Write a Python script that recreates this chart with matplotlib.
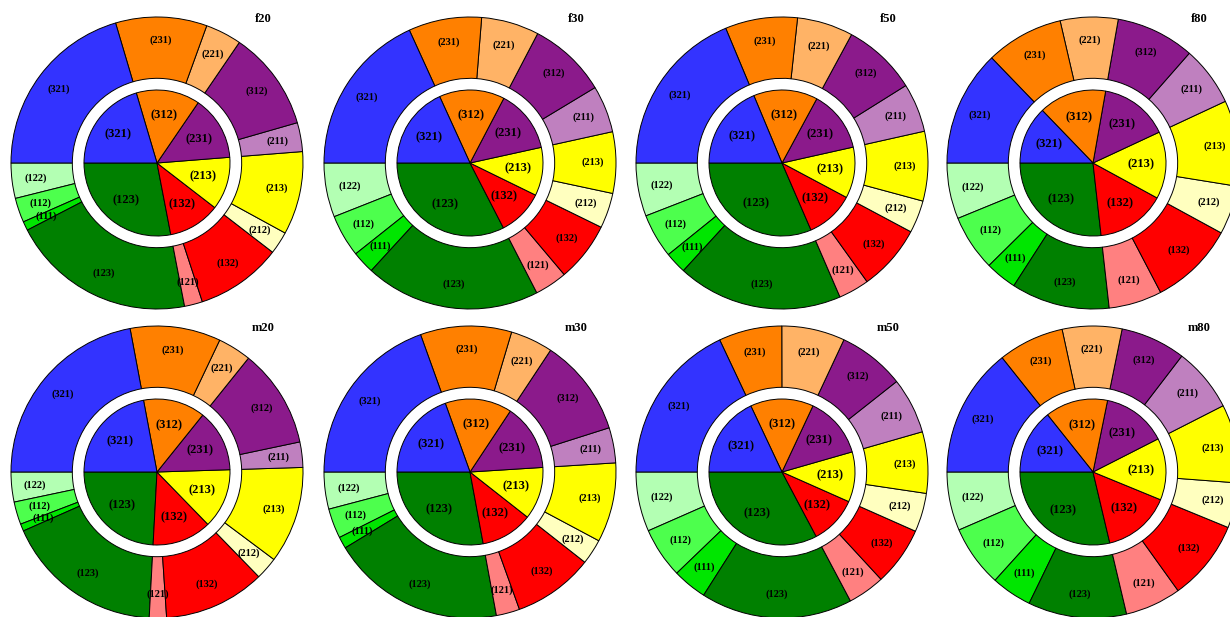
import numpy as np
import matplotlib
matplotlib.use("Agg")
import matplotlib.pyplot as plt

plt.rcParams['font.family'] = ['Liberation Serif', 'DejaVu Serif']

# outer ring categories, counter-clockwise from 9 o'clock
outer_labels = ['(122)', '(112)', '(111)', '(123)', '(121)', '(132)', '(212)',
                '(213)', '(211)', '(312)', '(221)', '(231)', '(321)']
outer_colors = ['#b3ffb3', '#4dff4d', '#00e600', '#008000', '#ff8080', '#ff0000', '#ffffbf',
                '#ffff00', '#bf80bf', '#8b1a8b', '#ffb366', '#ff8000', '#3333ff']

# inner pie: each slice is the sum of a group of outer slices
inner_labels = ['(123)', '(132)', '(213)', '(231)', '(312)', '(321)']
inner_colors = ['#008000', '#ff0000', '#ffff00', '#8b1a8b', '#ff8000', '#3333ff']
inner_groups = [[0, 1, 2, 3], [4, 5], [6, 7], [8, 9], [10, 11], [12]]

# shares (%)
f20 = [3.9, 2.7, 1.0, 20.4, 2.0, 9.5, 2.5, 9.2, 3.2, 11.0, 4.0, 10.1, 20.4]
f30 = [6.0, 4.7, 2.5, 19.4, 3.6, 6.6, 3.9, 6.8, 5.2, 8.7, 6.4, 8.1, 18.2]
f50 = [5.9, 4.9, 2.4, 18.3, 3.4, 7.3, 3.6, 7.7, 5.4, 8.2, 6.2, 8.0, 18.7]
f80 = [6.2, 6.2, 3.5, 10.9, 5.9, 9.4, 5.4, 9.5, 6.6, 8.7, 6.4, 8.6, 12.8]
m20 = [3.3, 2.5, 0.8, 17.5, 1.9, 11.2, 2.5, 10.7, 2.8, 10.9, 3.7, 10.0, 22.0]
m30 = [4.1, 3.3, 1.3, 19.2, 2.6, 8.9, 2.8, 8.8, 3.9, 10.8, 4.7, 10.1, 19.5]
m50 = [6.6, 5.6, 3.8, 16.8, 4.1, 6.5, 4.3, 6.8, 6.2, 7.4, 7.0, 7.0, 18.0]
m80 = [6.5, 6.8, 4.5, 10.9, 6.2, 8.9, 5.0, 8.7, 7.1, 7.2, 6.6, 7.3, 14.3]

panel_names = ['f20', 'f30', 'f50', 'f80', 'm20', 'm30', 'm50', 'm80']
panel_data = [f20, f30, f50, f80, m20, m30, m50, m80]

W, H = 1230, 617
fig = plt.figure(figsize=(W / 100, H / 100), dpi=100)

R = 146  # outer radius in pixels
centers_x = [157, 470, 782, 1093]
centers_y = [163, 472]

edge = dict(edgecolor='black', linewidth=0.7)

for i, (name, vals) in enumerate(zip(panel_names, panel_data)):
    cx = centers_x[i % 4]
    cy = centers_y[i // 4]
    ax = fig.add_axes([(cx - R) / W, 1 - (cy + R) / H, 2 * R / W, 2 * R / H])

    vals = np.array(vals)
    inner = [vals[g].sum() for g in inner_groups]

    _, t_out = ax.pie(vals, radius=1.0, startangle=180, colors=outer_colors,
                      labels=outer_labels, labeldistance=0.84,
                      wedgeprops=dict(width=0.42, **edge))
    _, t_in = ax.pie(inner, radius=0.5, startangle=180, colors=inner_colors,
                     labels=inner_labels, labeldistance=0.66,
                     wedgeprops=edge)
    for t in t_out:
        t.set(ha='center', va='center', fontsize=7.5, fontweight='bold')
    for t in t_in:
        t.set(ha='center', va='center', fontsize=9, fontweight='bold')

    ax.set_xlim(-1, 1)
    ax.set_ylim(-1, 1)
    ax.axis('off')
    ax.text(0.73, 0.985, name, ha='center', va='center', fontsize=9, fontweight='bold')

fig.savefig('out.png', dpi=100)
